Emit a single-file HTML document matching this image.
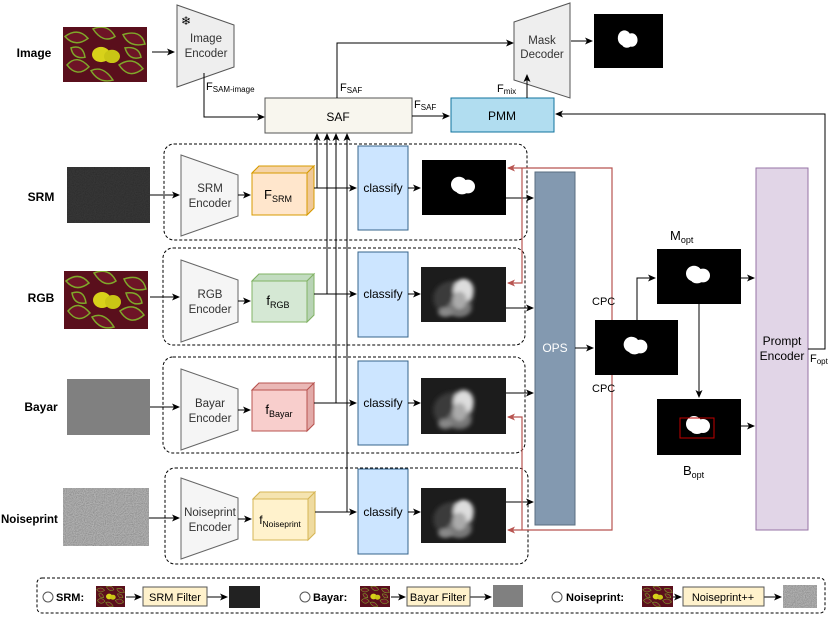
<!DOCTYPE html>
<html><head><meta charset="utf-8"><style>
html,body{margin:0;padding:0;background:#fff}
svg{display:block;font-family:"Liberation Sans",Arial,sans-serif}
</style></head><body>
<svg width="831" height="623" viewBox="0 0 831 623" xmlns="http://www.w3.org/2000/svg">
<defs>
<marker id="a" markerWidth="8" markerHeight="8" refX="7" refY="4" orient="auto" markerUnits="userSpaceOnUse"><path d="M0,0.5 L8,4 L0,7.5 L2,4z" fill="#000"/></marker>
<marker id="r" markerWidth="8" markerHeight="8" refX="7" refY="4" orient="auto" markerUnits="userSpaceOnUse"><path d="M0,0.5 L8,4 L0,7.5 L2,4z" fill="#b85450"/></marker>
<filter id="noise" x="0" y="0" width="100%" height="100%"><feTurbulence type="fractalNoise" baseFrequency="0.9" numOctaves="2"/><feColorMatrix type="saturate" values="0"/><feComponentTransfer><feFuncA type="linear" slope="0" intercept="1"/></feComponentTransfer></filter>
<filter id="blur"><feGaussianBlur stdDeviation="2"/></filter>
<symbol id="leaf" viewBox="0 0 84 58" preserveAspectRatio="none">
<rect width="84" height="58" fill="#5a0f1c"/>
<g stroke="#7fa82a" stroke-width="1.5" fill="#6e1426">
<path d="M2,10 Q15,0 25,12 Q12,22 2,10z"/><path d="M30,2 Q45,-4 52,10 Q40,18 30,2z"/><path d="M60,8 Q78,2 82,18 Q66,22 60,8z"/>
<path d="M4,40 Q14,28 26,42 Q14,54 4,40z"/><path d="M56,40 Q70,30 80,44 Q66,56 56,40z"/><path d="M28,46 Q40,40 50,56 Q36,60 28,46z"/>
<path d="M8,22 Q20,18 22,32 Q10,34 8,22z"/><path d="M62,22 Q76,20 78,32 Q66,36 62,22z"/>
</g>
<ellipse cx="38" cy="29" rx="9" ry="8" fill="#d8d21a"/><ellipse cx="49" cy="31" rx="8" ry="7" fill="#c9c515"/>
</symbol>
<symbol id="bw" viewBox="0 0 84 56" preserveAspectRatio="none">
<rect width="84" height="56" fill="#000"/>
<g fill="#fff"><ellipse cx="37" cy="25" rx="8" ry="8"/><ellipse cx="46" cy="27" rx="7" ry="7"/><ellipse cx="40" cy="31" rx="6" ry="4"/></g>
</symbol>
<symbol id="gm" viewBox="0 0 84 56" preserveAspectRatio="none">
<rect width="84" height="56" fill="#1c1c1c"/>
<g filter="url(#blur)"><ellipse cx="32" cy="32" rx="20" ry="18" fill="#3a3a3a"/><ellipse cx="38" cy="42" rx="12" ry="9" fill="#777"/><ellipse cx="42" cy="24" rx="10" ry="12" fill="#ddd"/><ellipse cx="38" cy="34" rx="7" ry="9" fill="#aaa"/><ellipse cx="24" cy="46" rx="7" ry="5" fill="#888"/></g>
</symbol>
</defs>

<text x="34" y="57" font-size="12" font-weight="bold" text-anchor="middle">Image</text>
<use href="#leaf" x="63" y="27" width="84" height="55"/>
<line x1="152" y1="52" x2="174" y2="52" stroke="#000" marker-end="url(#a)"/>
<polygon points="177,5 234,25 234,67 177,87" fill="#eeeeee" stroke="#555"/>
<text x="186" y="25" font-size="12" text-anchor="middle">❄</text>
<text x="206" y="42" font-size="11.5" fill="#333" text-anchor="middle">Image</text>
<text x="206" y="57" font-size="11.5" fill="#333" text-anchor="middle">Encoder</text>
<polyline points="204,73 204,117 264,117" fill="none" stroke="#000" marker-end="url(#a)"/>
<text x="206" y="90" font-size="11">F<tspan font-size="8" dy="2">SAM-image</tspan></text>

<rect x="265" y="98" width="147" height="35" fill="#f8f6ee" stroke="#555"/>
<text x="338" y="121" font-size="12" text-anchor="middle">SAF</text>
<polyline points="337,98 337,43 513,43" fill="none" stroke="#000" marker-end="url(#a)"/>
<text x="340" y="91" font-size="11">F<tspan font-size="8" dy="2">SAF</tspan></text>

<polygon points="514,22 570,3 570,98 514,80" fill="#eeeeee" stroke="#555"/>
<text x="542" y="44" font-size="11.5" fill="#333" text-anchor="middle">Mask</text>
<text x="542" y="58" font-size="11.5" fill="#333" text-anchor="middle">Decoder</text>
<line x1="571" y1="41" x2="592" y2="41" stroke="#000" marker-end="url(#a)"/>
<use href="#bw" x="594" y="14" width="69" height="54"/>

<line x1="412" y1="116" x2="449" y2="116" stroke="#000" marker-end="url(#a)"/>
<text x="414" y="108" font-size="11">F<tspan font-size="8" dy="2">SAF</tspan></text>
<rect x="451" y="98" width="103" height="34" fill="#b1ddf0" stroke="#10739e"/>
<text x="502" y="120" font-size="12" text-anchor="middle">PMM</text>
<line x1="527" y1="98" x2="527" y2="75" stroke="#000" marker-end="url(#a)"/>
<text x="497" y="92" font-size="11">F<tspan font-size="8" dy="2">mix</tspan></text>

<g stroke="#000" fill="none">
<polyline points="317,188 317,134" marker-end="url(#a)"/>
<polyline points="327,294 327,134" marker-end="url(#a)"/>
<polyline points="336,403 336,134" marker-end="url(#a)"/>
<polyline points="347,512 347,134" marker-end="url(#a)"/>
</g>

<g fill="none" stroke="#000" stroke-dasharray="3,2">
<rect x="164" y="144" width="363" height="96" rx="10"/>
<rect x="163" y="248" width="362" height="97" rx="10"/>
<rect x="163" y="357" width="362" height="96" rx="10"/>
<rect x="165" y="468" width="363" height="96" rx="10"/>
</g>

<g font-size="12" font-weight="bold" text-anchor="middle">
<text x="41" y="201">SRM</text><text x="41" y="302">RGB</text><text x="41" y="411">Bayar</text>
</g>
<text x="1" y="523" font-size="11.5" font-weight="bold">Noiseprint</text>
<rect x="67" y="167" width="83" height="56" fill="#222" filter="url(#noise)"/>
<rect x="67" y="167" width="83" height="56" fill="#1b1b1b" opacity="0.85"/>
<use href="#leaf" x="64" y="271" width="84" height="58"/>
<rect x="67" y="379" width="83" height="56" fill="#808080"/>
<rect x="63" y="488" width="86" height="58" filter="url(#noise)"/>
<rect x="63" y="488" width="86" height="58" fill="#888" opacity="0.45"/>

<g stroke="#000" fill="none">
<line x1="150" y1="195" x2="179" y2="195" marker-end="url(#a)"/>
<line x1="150" y1="297" x2="179" y2="297" marker-end="url(#a)"/>
<line x1="150" y1="407" x2="179" y2="407" marker-end="url(#a)"/>
<line x1="149" y1="518" x2="179" y2="518" marker-end="url(#a)"/>
</g>

<g fill="#f5f5f5" stroke="#666">
<polygon points="181,155 238,175 238,216 181,236"/>
<polygon points="181,260 238,280 238,322 181,342"/>
<polygon points="181,369 238,389 238,430 181,450"/>
<polygon points="181,478 238,498 238,539 181,559"/>
</g>
<g font-size="11.5" fill="#333" text-anchor="middle">
<text x="210" y="192">SRM</text><text x="210" y="207">Encoder</text>
<text x="210" y="298">RGB</text><text x="210" y="313">Encoder</text>
<text x="210" y="407">Bayar</text><text x="210" y="422">Encoder</text>
<text x="210" y="516">Noiseprint</text><text x="210" y="531">Encoder</text>
</g>
<g stroke="#000">
<line x1="238" y1="195" x2="250" y2="195" marker-end="url(#a)"/>
<line x1="238" y1="301" x2="250" y2="301" marker-end="url(#a)"/>
<line x1="238" y1="410" x2="250" y2="410" marker-end="url(#a)"/>
<line x1="238" y1="519" x2="251" y2="519" marker-end="url(#a)"/>
</g>

<g>
<polygon points="252,173 259,166 314,166 314,208 307,215 252,215" fill="#ffe6cc" stroke="#d79b00"/>
<polygon points="252,173 259,166 314,166 307,173" fill="#f5d3a8" stroke="#d79b00"/><polygon points="307,173 314,166 314,208 307,215" fill="#efc898" stroke="#d79b00"/>
<text x="278" y="199" font-size="13" text-anchor="middle">F<tspan font-size="9" dy="3">SRM</tspan></text>

<polygon points="252,281 259,274 314,274 314,315 307,322 252,322" fill="#d5e8d4" stroke="#82b366"/>
<polygon points="252,281 259,274 314,274 307,281" fill="#c2dcc0" stroke="#82b366"/><polygon points="307,281 314,274 314,315 307,322" fill="#b8d3b5" stroke="#82b366"/>
<text x="278" y="305" font-size="13" text-anchor="middle">f<tspan font-size="9" dy="3">RGB</tspan></text>

<polygon points="252,390 259,383 314,383 314,424 307,431 252,431" fill="#f8cecc" stroke="#b85450"/>
<polygon points="252,390 259,383 314,383 307,390" fill="#eab8b6" stroke="#b85450"/><polygon points="307,390 314,383 314,424 307,431" fill="#e2aaa8" stroke="#b85450"/>
<text x="279" y="414" font-size="13" text-anchor="middle">f<tspan font-size="9" dy="3">Bayar</tspan></text>

<polygon points="253,499 260,492 315,492 315,533 308,540 253,540" fill="#fff2cc" stroke="#d6b656"/>
<polygon points="253,499 260,492 315,492 308,499" fill="#f5e4b0" stroke="#d6b656"/><polygon points="308,499 315,492 315,533 308,540" fill="#efdba0" stroke="#d6b656"/>
<text x="280" y="524" font-size="12" text-anchor="middle">f<tspan font-size="8.5" dy="3">Noiseprint</tspan></text>
</g>

<g stroke="#000" fill="none">
<line x1="314" y1="188" x2="356" y2="188" marker-end="url(#a)"/>
<line x1="314" y1="294" x2="356" y2="294" marker-end="url(#a)"/>
<line x1="314" y1="403" x2="356" y2="403" marker-end="url(#a)"/>
<line x1="315" y1="512" x2="356" y2="512" marker-end="url(#a)"/>
</g>

<g fill="#cce5ff" stroke="#36648b">
<rect x="358" y="146" width="50" height="84"/>
<rect x="358" y="252" width="50" height="85"/>
<rect x="358" y="361" width="50" height="84"/>
<rect x="358" y="469" width="50" height="85"/>
</g>
<g font-size="12" text-anchor="middle">
<text x="383" y="192">classify</text><text x="383" y="298">classify</text><text x="383" y="407">classify</text><text x="383" y="516">classify</text>
</g>
<g stroke="#000">
<line x1="408" y1="188" x2="420" y2="188" marker-end="url(#a)"/>
<line x1="408" y1="294" x2="420" y2="294" marker-end="url(#a)"/>
<line x1="408" y1="403" x2="420" y2="403" marker-end="url(#a)"/>
<line x1="408" y1="512" x2="420" y2="512" marker-end="url(#a)"/>
</g>
<use href="#bw" x="422" y="160" width="84" height="55"/>
<use href="#gm" x="421" y="267" width="85" height="55"/>
<use href="#gm" x="421" y="378" width="85" height="56"/>
<use href="#gm" x="421" y="488" width="85" height="55"/>

<g stroke="#000" fill="none">
<line x1="506" y1="198" x2="533" y2="198" marker-end="url(#a)"/>
<line x1="506" y1="308" x2="533" y2="308" marker-end="url(#a)"/>
<line x1="506" y1="393" x2="533" y2="393" marker-end="url(#a)"/>
<line x1="506" y1="502" x2="533" y2="502" marker-end="url(#a)"/>
</g>

<g stroke="#b85450" fill="none" stroke-width="1.2">
<polyline points="612,375 612,168 508,168" marker-end="url(#r)"/>
<polyline points="522,168 522,283 508,283" marker-end="url(#r)"/>
<polyline points="612,375 612,530 508,530" marker-end="url(#r)"/>
<polyline points="522,530 522,417 508,417" marker-end="url(#r)"/>
</g>

<rect x="535" y="172" width="40" height="353" fill="#8399b0" stroke="#5a6d80"/>
<text x="555" y="352" font-size="12" fill="#fff" text-anchor="middle">OPS</text>
<text x="592" y="305" font-size="11">CPC</text>
<text x="592" y="392" font-size="11">CPC</text>
<line x1="575" y1="348" x2="593" y2="348" stroke="#000" marker-end="url(#a)"/>
<use href="#bw" x="595" y="320" width="83" height="55"/>
<polyline points="637,320 637,278 655,278" fill="none" stroke="#000" marker-end="url(#a)"/>
<use href="#bw" x="657" y="249" width="84" height="55"/>
<text x="670" y="240" font-size="13">M<tspan font-size="9" dy="3">opt</tspan></text>
<line x1="699" y1="304" x2="699" y2="397" stroke="#000" marker-end="url(#a)"/>
<use href="#bw" x="657" y="399" width="84" height="56"/>
<rect x="680" y="418" width="34" height="20" fill="none" stroke="#c00000"/>
<text x="683" y="475" font-size="13">B<tspan font-size="9" dy="3">opt</tspan></text>
<line x1="741" y1="278" x2="754" y2="278" stroke="#000" marker-end="url(#a)"/>
<line x1="741" y1="426" x2="754" y2="426" stroke="#000" marker-end="url(#a)"/>

<rect x="756" y="168" width="52" height="362" fill="#e1d5e7" stroke="#9673a6"/>
<text x="782" y="345" font-size="12" text-anchor="middle">Prompt</text>
<text x="782" y="360" font-size="12" text-anchor="middle">Encoder</text>
<polyline points="808,349 825,349 825,114 556,114" fill="none" stroke="#000" marker-end="url(#a)"/>
<text x="810" y="362" font-size="11">F<tspan font-size="8" dy="2">opt</tspan></text>

<rect x="37" y="578" width="788" height="35" rx="5" fill="none" stroke="#000" stroke-dasharray="3,2"/>
<g font-size="11" font-weight="bold">
<circle cx="48" cy="597" r="5" fill="none" stroke="#555"/><text x="56" y="601">SRM:</text>
<circle cx="305" cy="597" r="5" fill="none" stroke="#555"/><text x="313" y="601">Bayar:</text>
<circle cx="557" cy="597" r="5" fill="none" stroke="#555"/><text x="566" y="601">Noiseprint:</text>
</g>
<use href="#leaf" x="96" y="586" width="29" height="21"/>
<use href="#leaf" x="360" y="586" width="30" height="21"/>
<use href="#leaf" x="642" y="586" width="31" height="21"/>
<g stroke="#000">
<line x1="126" y1="597" x2="141" y2="597" marker-end="url(#a)"/>
<line x1="207" y1="597" x2="227" y2="597" marker-end="url(#a)"/>
<line x1="391" y1="597" x2="405" y2="597" marker-end="url(#a)"/>
<line x1="470" y1="597" x2="491" y2="597" marker-end="url(#a)"/>
<line x1="673" y1="597" x2="681" y2="597" marker-end="url(#a)"/>
<line x1="764" y1="597" x2="781" y2="597" marker-end="url(#a)"/>
</g>
<g fill="#fff2cc" stroke="#555">
<rect x="143" y="587" width="64" height="19"/><rect x="407" y="587" width="63" height="19"/><rect x="683" y="587" width="81" height="19"/>
</g>
<g font-size="11" text-anchor="middle">
<text x="175" y="601">SRM Filter</text><text x="438" y="601">Bayar Filter</text><text x="723" y="601">Noiseprint++</text>
</g>
<rect x="229" y="586" width="31" height="22" fill="#222"/>
<rect x="493" y="585" width="30" height="22" fill="#808080"/>
<rect x="783" y="585" width="34" height="23" filter="url(#noise)"/>
<rect x="783" y="585" width="34" height="23" fill="#888" opacity="0.45"/>
</svg>
</body></html>
